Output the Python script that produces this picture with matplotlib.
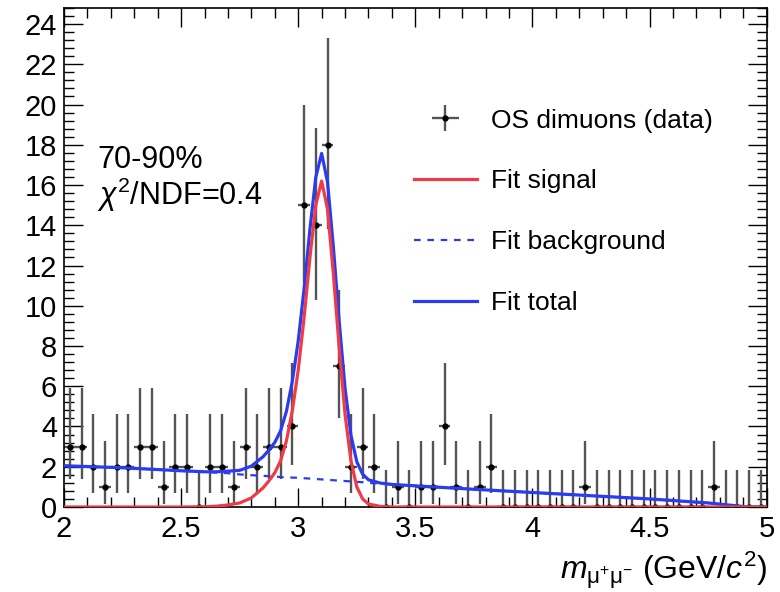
import matplotlib
matplotlib.use('Agg')
import matplotlib.pyplot as plt
import numpy as np
from matplotlib.ticker import MultipleLocator
from matplotlib.lines import Line2D

plt.rcParams['font.family'] = ['Liberation Sans', 'DejaVu Sans']
plt.rcParams['mathtext.fontset'] = 'custom'
plt.rcParams['mathtext.rm'] = 'Liberation Sans'
plt.rcParams['mathtext.it'] = 'Liberation Sans:italic'

# histogram: 60 bins of 0.05 GeV/c2 from 2 to 5
bin_width = 0.05
counts = [3, 3, 2, 1, 2, 2, 3, 3, 1, 2,
          2, 0, 2, 2, 1, 3, 2, 3, 3, 4,
          15, 14, 18, 7, 2, 3, 2, 0, 1, 0,
          1, 1, 4, 1, 0, 1, 2, 0, 0, 0,
          0, 0, 0, 0, 1, 0, 0, 0, 0, 0,
          0, 0, 0, 0, 0, 1, 0, 0, 0, 0]

# Poisson (68%) intervals as drawn by ROOT: count -> (low, high)
poisson_band = {0: (0.0, 1.841), 1: (0.173, 3.300), 2: (0.708, 4.638),
                3: (1.367, 5.918), 4: (2.086, 7.163), 7: (4.419, 10.77),
                14: (10.31, 18.84), 15: (11.17, 19.97), 18: (13.80, 23.33)}

# fit curves
fit_x = [2.0, 2.25, 2.5, 2.6, 2.65, 2.7, 2.75, 2.8, 2.85, 2.875, 2.9, 2.925,
         2.95, 2.975, 3.0, 3.025, 3.05, 3.075, 3.1, 3.125, 3.15, 3.175, 3.2,
         3.225, 3.25, 3.275, 3.3, 3.35, 3.4, 3.5, 3.75, 4.0, 4.25, 4.5, 4.75,
         4.92, 5.0]
fit_signal = [0, 0, 0, 0.01, 0.04, 0.1, 0.2, 0.45, 0.95, 1.3, 1.7, 2.3,
              3.3, 4.8, 6.8, 9.4, 12.4, 15.0, 16.2, 14.8, 11.6, 7.9, 4.6,
              2.3, 1.0, 0.4, 0.15, 0.03, 0, 0, 0, 0, 0, 0, 0,
              0, 0]
fit_background = [2.05, 1.95, 1.8, 1.74, 1.71, 1.68, 1.62, 1.58, 1.55, 1.53,
                  1.51, 1.49, 1.47, 1.46, 1.45, 1.43, 1.41, 1.39, 1.37, 1.35,
                  1.33, 1.31, 1.29, 1.27, 1.25, 1.23, 1.2, 1.16, 1.12, 1.05,
                  0.88, 0.72, 0.56, 0.4, 0.2, 0.0, 0.0]

centres = 2.0 + bin_width * (np.arange(len(counts)) + 0.5)
counts = np.array(counts)
lo = np.array([c - poisson_band[c][0] for c in counts])
hi = np.array([poisson_band[c][1] - c for c in counts])
fit_total = np.array(fit_signal) + np.array(fit_background)

red = '#ee3b45'
blue = '#2b3cf0'

fig = plt.figure(figsize=(7.8, 5.92), dpi=100)
ax = fig.add_axes([0.082, 0.1436, 0.901, 0.843])

data = ax.errorbar(centres, counts, yerr=[lo, hi], xerr=bin_width / 2,
                   fmt='o', ms=3.5, color='black', ecolor='0.33', elinewidth=1.7,
                   capsize=0, zorder=2)
ax.plot(fit_x, fit_background, color=blue, lw=1.6, ls=(0, (3, 3)), zorder=3)
ax.plot(fit_x, fit_total, color=blue, lw=2.3, zorder=4)
ax.plot(fit_x, fit_signal, color=red, lw=2.3, zorder=5)

ax.set_xlim(2, 5)
ax.set_ylim(0, 24.8)
ax.xaxis.set_major_locator(MultipleLocator(0.5))
ax.xaxis.set_minor_locator(MultipleLocator(0.1))
ax.yaxis.set_major_locator(MultipleLocator(2))
ax.yaxis.set_minor_locator(MultipleLocator(0.4))
ax.set_xticks([2, 2.5, 3, 3.5, 4, 4.5, 5])
ax.set_xticklabels(['2', '2.5', '3', '3.5', '4', '4.5', '5'])
ax.tick_params(which='both', direction='in', top=True, right=True,
               labelsize=21, width=1)
ax.tick_params(axis='y', which='major', pad=5)
ax.tick_params(axis='x', which='major', pad=6)
ax.tick_params(which='major', length=14)
ax.tick_params(which='minor', length=7)
for s in ax.spines.values():
    s.set_linewidth(1.2)

ax.text(1.0, -0.126, r'$m_{\mathrm{\mu}^{+}\mathrm{\mu}^{-}}$ (GeV/$c^{2}$)',
        transform=ax.transAxes, fontsize=23, ha='right', va='center')

ax.text(0.047, 0.695, '70-90%', transform=ax.transAxes, fontsize=22,
        va='center')
ax.text(0.047, 0.625, r'$\chi^{2}$/NDF=0.4', transform=ax.transAxes,
        fontsize=22, va='center')

handles = [data,
           Line2D([], [], color=red, lw=2.3),
           Line2D([], [], color=blue, lw=1.6, ls=(0, (3, 3))),
           Line2D([], [], color=blue, lw=2.3)]
labels = ['OS dimuons (data)', 'Fit signal', 'Fit background', 'Fit total']
ax.legend(handles, labels, loc='upper left', bbox_to_anchor=(0.464, 0.846),
          frameon=False, fontsize=19, labelspacing=1.4, handlelength=2.4,
          handletextpad=0.53)

plt.savefig('out.png', dpi=100)
